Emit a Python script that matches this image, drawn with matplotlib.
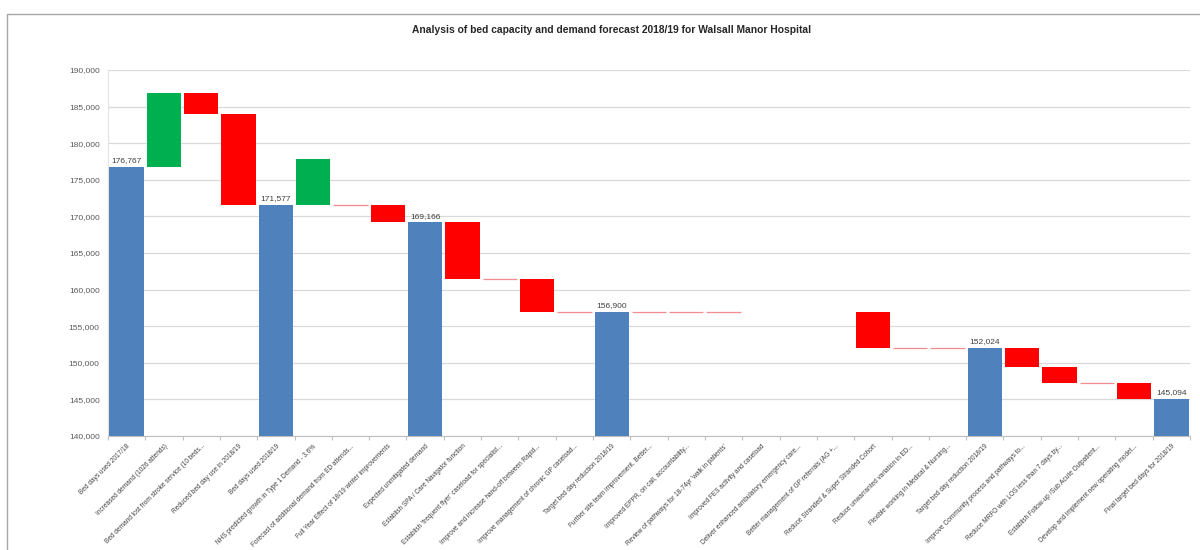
import matplotlib
matplotlib.use("Agg")
import matplotlib.pyplot as plt
from matplotlib.patches import Rectangle
from matplotlib.ticker import FuncFormatter, FixedLocator

plt.rcParams['font.family'] = ['Liberation Sans', 'DejaVu Sans']

# waterfall steps: each bar runs from step_from to step_to
categories = [
    "Bed days used 2017/18",
    "Increased demand (1026 attends)",
    "Bed demand lost from stroke service (10 beds...",
    "Reduced bed day use in 2018/19",
    "Bed days used 2018/19",
    "NHS predicted growth in Type 1 Demand - 3.6%",
    "Forecast of additional demand from ED attends...",
    "Full Year Effect of 18/19 winter improvements",
    "Expected unmitigated demand",
    "Establish SPA / Care Navigator function",
    "Establish 'frequent flyer' caseload for specialist...",
    "Improve and increase hand-off between Rapid...",
    "Improve management of chronic GP caseload...",
    "Target bed day reduction 2018/19",
    "Further site team improvement. Better...",
    "Improved EPPR, on call, accountability...",
    "Review of pathways for 18-74yr 'walk in patients'",
    "Improved FES activity and caseload",
    "Deliver enhanced ambulatory emergency care...",
    "Better management of GP referrals (AG +...",
    "Reduce Stranded & Super Stranded Cohort",
    "Reduce unwarranted variation in ED...",
    "Flexible working in Medical & Nursing...",
    "Target bed day reduction 2018/19",
    "Improve Community process and pathways to...",
    "Reduce MRFO with LOS less than 7 days by...",
    "Establish Follow-up /Sub Acute Outpatient...",
    "Develop and implement new operating model...",
    "Final target bed days for 2018/19",
]

# 'total', 'up', 'down', 'flat' (no change) or 'none' (nothing drawn)
kinds = [
    "total", "up", "down", "down", "total", "up", "flat", "down", "total",
    "down", "flat", "down", "flat", "total", "flat", "flat", "flat",
    "none", "none", "none", "down", "flat", "flat", "total",
    "down", "down", "flat", "down", "total",
]

step_from = [
    0, 176767, 186800, 183950, 0, 171577, 171577, 171577, 0,
    169166, 161500, 161500, 156900, 0, 156900, 156900, 156900,
    156900, 156900, 156900, 156900, 152024, 152024, 0,
    152024, 149410, 147270, 147270, 0,
]

step_to = [
    176767, 186800, 183950, 171577, 171577, 177820, 171577, 169166, 169166,
    161500, 161500, 156900, 156900, 156900, 156900, 156900, 156900,
    156900, 156900, 156900, 152024, 152024, 152024, 152024,
    149410, 147270, 147270, 145094, 145094,
]

colors = {'total': '#4F81BD', 'up': '#00B050', 'down': '#FF0000'}
bar_width = 0.92

fig = plt.figure(figsize=(12, 5.5), dpi=100)
ax = fig.add_axes([0.09, 0.2073, 0.9017, 0.6655])

for i, kind in enumerate(kinds):
    lo, hi = step_from[i], step_to[i]
    if kind in ('total', 'up', 'down'):
        ax.bar(i, hi - lo, bottom=lo, width=bar_width,
               color=colors[kind], edgecolor='none', zorder=3)
    elif kind == 'flat':
        ax.hlines(hi, i - bar_width / 2, i + bar_width / 2,
                  color='#F28C8C', linewidth=0.9, zorder=3)
    if kind == 'total':
        ax.text(i, hi + 400, f"{hi:,}", ha='center', va='bottom',
                fontsize=6, color='#404040', zorder=4)

ax.set_xlim(-0.5, len(categories) - 0.5)
ax.set_ylim(140000, 190000)
ax.set_yticks(range(140000, 190001, 5000))
ax.yaxis.set_major_formatter(FuncFormatter(lambda v, p: f"{int(v):,}"))
ax.tick_params(axis='y', length=0, labelsize=6, labelcolor='#595959', pad=6)
ax.grid(axis='y', color='#D9D9D9', linewidth=0.9, zorder=0)
ax.set_axisbelow(True)

ax.set_xticks(range(len(categories)))
ax.set_xticklabels(categories, rotation=45, ha='right', rotation_mode='anchor',
                   fontsize=4.7, color='#404040')
ax.tick_params(axis='x', which='major', length=0, pad=5)
ax.xaxis.set_minor_locator(FixedLocator([k - 0.5 for k in range(len(categories) + 1)]))
ax.tick_params(axis='x', which='minor', length=3, color='#BFBFBF', width=0.8)

for side in ('top', 'right'):
    ax.spines[side].set_visible(False)
ax.spines['bottom'].set_color('#BFBFBF')
ax.spines['left'].set_color('#E3E3E3')
ax.spines['left'].set_linewidth(0.8)

fig.text(0.51, 0.945, "Analysis of bed capacity and demand forecast 2018/19 for Walsall Manor Hospital",
         ha='center', va='center', fontsize=7.4, fontweight='bold', color='#262626')

# chart area frame
fig.patches.append(Rectangle((7 / 1200, -0.1), 2.0, 1 - 14 / 550 + 0.1,
                             transform=fig.transFigure, fill=False,
                             edgecolor='#A6A6A6', linewidth=1.0))

fig.savefig("out.png", dpi=100)
